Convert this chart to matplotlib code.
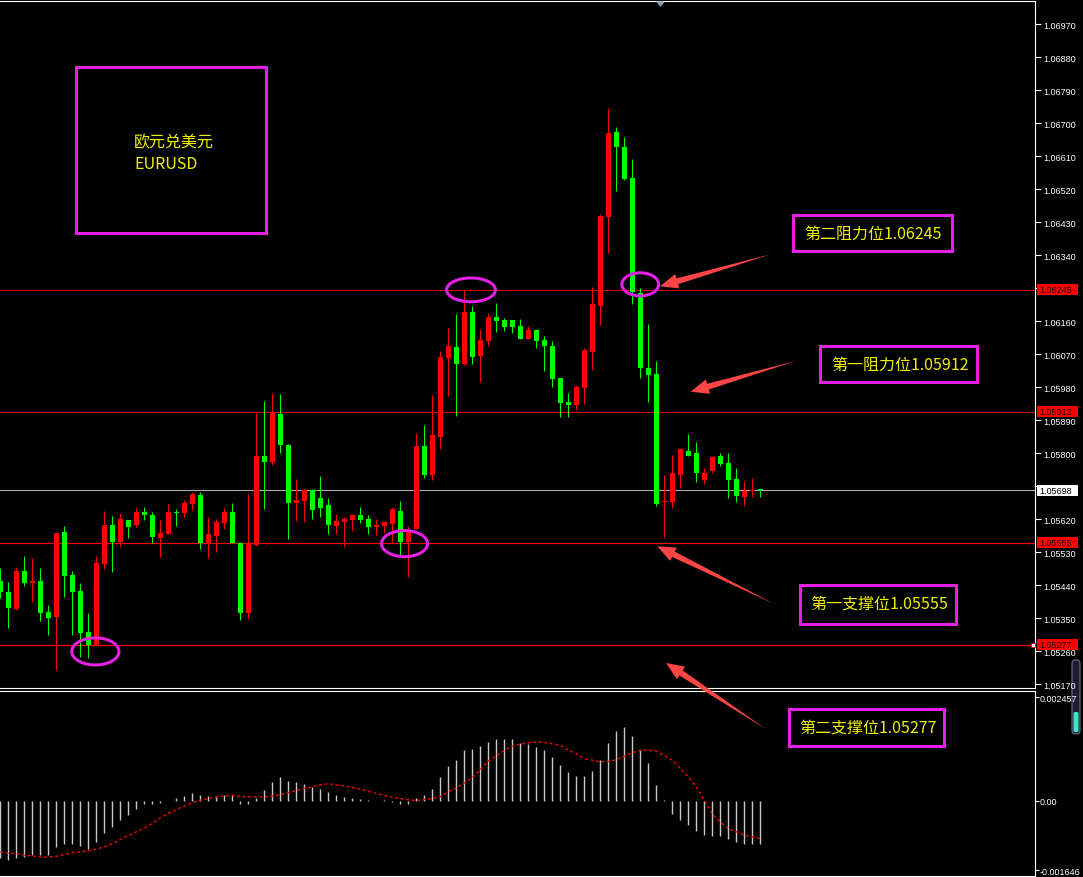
import numpy as np
import matplotlib
matplotlib.use("Agg")
import matplotlib.pyplot as plt
import matplotlib.transforms as mtransforms
from matplotlib.patches import Rectangle, Ellipse, Polygon, FancyBboxPatch

plt.rcParams['font.family'] = ['Noto Sans CJK SC', 'DejaVu Sans']

# DATA (EURUSD candles)
opens = [1.05452, 1.05421, 1.05376, 1.05478, 1.05446, 1.05451, 1.05366, 1.05354, 1.05585, 1.05467,
         1.05424, 1.05312, 1.05276, 1.05497, 1.05604, 1.05557, 1.05617, 1.05604, 1.05639, 1.05631,
         1.05568, 1.05579, 1.05639, 1.05636, 1.05661, 1.05685, 1.05555, 1.05574, 1.05609, 1.05639,
         1.05555, 1.05364, 1.05549, 1.05792, 1.05775, 1.05906, 1.05822, 1.05664, 1.05669, 1.05699,
         1.05677, 1.05658, 1.05601, 1.05612, 1.05617, 1.05631, 1.05620, 1.05598, 1.05601, 1.05606,
         1.05642, 1.05557, 1.05593, 1.05819, 1.05740, 1.05844, 1.06059, 1.06089, 1.06043, 1.06184,
         1.06065, 1.06105, 1.06171, 1.06163, 1.06163, 1.06146, 1.06111, 1.06135, 1.06108, 1.06092,
         1.06005, 1.05939, 1.05931, 1.05977, 1.06075, 1.06201, 1.06444, 1.06675, 1.06634, 1.06550,
         1.06236, 1.06032, 1.06015, 1.05666, 1.05666, 1.05740, 1.05805, 1.05800, 1.05726, 1.05751,
         1.05792, 1.05773, 1.05729, 1.05680, 1.05696, 1.05701]
highs = [1.05486, 1.05448, 1.05489, 1.05519, 1.05514, 1.05486, 1.05385, 1.05582, 1.05601, 1.05478,
         1.05445, 1.05364, 1.05519, 1.05642, 1.05628, 1.05636, 1.05617, 1.05650, 1.05653, 1.05639,
         1.05617, 1.05661, 1.05647, 1.05672, 1.05694, 1.05694, 1.05625, 1.05620, 1.05650, 1.05664,
         1.05557, 1.05688, 1.05912, 1.05942, 1.05964, 1.05961, 1.05825, 1.05729, 1.05702, 1.05702,
         1.05737, 1.05677, 1.05634, 1.05625, 1.05634, 1.05653, 1.05631, 1.05620, 1.05615, 1.05653,
         1.05669, 1.05601, 1.05855, 1.05876, 1.05958, 1.06078, 1.06141, 1.06179, 1.06244, 1.06201,
         1.06138, 1.06182, 1.06209, 1.06168, 1.06163, 1.06165, 1.06146, 1.06138, 1.06119, 1.06105,
         1.06005, 1.05964, 1.05985, 1.06086, 1.06253, 1.06452, 1.06741, 1.06689, 1.06662, 1.06602,
         1.06250, 1.06152, 1.06051, 1.05740, 1.05795, 1.05814, 1.05852, 1.05830, 1.05759, 1.05792,
         1.05800, 1.05800, 1.05759, 1.05724, 1.05732, 1.05701]
lows = [1.05405, 1.05324, 1.05373, 1.05437, 1.05394, 1.05342, 1.05304, 1.05208, 1.05407, 1.05304,
        1.05244, 1.05241, 1.05276, 1.05484, 1.05475, 1.05544, 1.05568, 1.05598, 1.05617, 1.05555,
        1.05516, 1.05579, 1.05601, 1.05625, 1.05645, 1.05538, 1.05514, 1.05530, 1.05593, 1.05555,
        1.05345, 1.05347, 1.05546, 1.05647, 1.05767, 1.05800, 1.05565, 1.05615, 1.05612, 1.05620,
        1.05625, 1.05579, 1.05579, 1.05544, 1.05587, 1.05609, 1.05579, 1.05576, 1.05582, 1.05555,
        1.05522, 1.05462, 1.05593, 1.05732, 1.05727, 1.05811, 1.05955, 1.05901, 1.06040, 1.06043,
        1.05994, 1.06092, 1.06130, 1.06133, 1.06127, 1.06111, 1.06111, 1.06086, 1.06024, 1.05980,
        1.05898, 1.05898, 1.05917, 1.05934, 1.06026, 1.06149, 1.06345, 1.06514, 1.06544, 1.06206,
        1.06005, 1.05939, 1.05655, 1.05568, 1.05650, 1.05705, 1.05792, 1.05721, 1.05715, 1.05745,
        1.05765, 1.05677, 1.05666, 1.05655, 1.05680, 1.05680]
closes = [1.05422, 1.05377, 1.05478, 1.05446, 1.05452, 1.05364, 1.05350, 1.05582, 1.05465, 1.05421,
          1.05309, 1.05276, 1.05500, 1.05604, 1.05557, 1.05620, 1.05598, 1.05639, 1.05631, 1.05571,
          1.05582, 1.05639, 1.05636, 1.05664, 1.05688, 1.05555, 1.05579, 1.05612, 1.05639, 1.05555,
          1.05364, 1.05555, 1.05792, 1.05775, 1.05912, 1.05822, 1.05664, 1.05672, 1.05699, 1.05645,
          1.05650, 1.05604, 1.05615, 1.05620, 1.05631, 1.05617, 1.05598, 1.05604, 1.05612, 1.05647,
          1.05557, 1.05587, 1.05819, 1.05740, 1.05849, 1.06062, 1.06092, 1.06043, 1.06184, 1.06062,
          1.06108, 1.06171, 1.06160, 1.06144, 1.06144, 1.06111, 1.06135, 1.06105, 1.06092, 1.06002,
          1.05936, 1.05931, 1.05980, 1.06081, 1.06206, 1.06446, 1.06673, 1.06634, 1.06547, 1.06239,
          1.06032, 1.06013, 1.05661, 1.05669, 1.05745, 1.05811, 1.05792, 1.05745, 1.05745, 1.05789,
          1.05770, 1.05726, 1.05683, 1.05696, 1.05699, 1.05698]

# MACD histogram + signal
macd_hist = [-0.00137, -0.00142, -0.00137, -0.00133, -0.00128, -0.00130, -0.00130, -0.00111, -0.00104, -0.00102,
             -0.00107, -0.00114, -0.00097, -0.00076, -0.00062, -0.00045, -0.00033, -0.00021, -0.00009, -0.00007,
             -0.00005, -0.00002, 0.00007, 0.00012, 0.00019, 0.00014, 0.00012, 0.00012, 0.00014, 0.00014,
             -0.00009, -0.00009, 0.00007, 0.00024, 0.00045, 0.00055, 0.00047, 0.00043, 0.00040, 0.00033,
             0.00028, 0.00021, 0.00014, 0.00009, 0.00007, 0.00005, 0.00001, 0.00000, 0.00001, -0.00003,
             -0.00007, -0.00009, 0.00007, 0.00014, 0.00028, 0.00057, 0.00083, 0.00097, 0.00119, 0.00123,
             0.00130, 0.00140, 0.00145, 0.00145, 0.00145, 0.00137, 0.00135, 0.00128, 0.00119, 0.00104,
             0.00085, 0.00069, 0.00059, 0.00059, 0.00071, 0.00097, 0.00137, 0.00164, 0.00175, 0.00154,
             0.00121, 0.00090, 0.00038, 0.00001, -0.00031, -0.00045, -0.00057, -0.00071, -0.00081, -0.00083,
             -0.00085, -0.00090, -0.00097, -0.00102, -0.00102, -0.00102]
macd_signal = [-0.00122, -0.00125, -0.00125, -0.00130, -0.00131, -0.00134, -0.00134, -0.00132, -0.00128, -0.00123,
               -0.00122, -0.00119, -0.00115, -0.00110, -0.00102, -0.00092, -0.00083, -0.00074, -0.00065, -0.00054,
               -0.00041, -0.00030, -0.00021, -0.00013, -0.00005, 0.00001, 0.00005, 0.00008, 0.00011, 0.00013,
               0.00010, 0.00009, 0.00009, 0.00009, 0.00011, 0.00014, 0.00019, 0.00024, 0.00029, 0.00033,
               0.00038, 0.00040, 0.00037, 0.00035, 0.00031, 0.00027, 0.00022, 0.00017, 0.00012, 0.00008,
               0.00005, 0.00002, 0.00000, 0.00003, 0.00005, 0.00009, 0.00021, 0.00030, 0.00042, 0.00055,
               0.00074, 0.00094, 0.00106, 0.00119, 0.00129, 0.00134, 0.00137, 0.00139, 0.00138, 0.00135,
               0.00131, 0.00120, 0.00111, 0.00100, 0.00096, 0.00092, 0.00093, 0.00097, 0.00105, 0.00114,
               0.00119, 0.00120, 0.00117, 0.00107, 0.00096, 0.00076, 0.00056, 0.00032, 0.00001, -0.00031,
               -0.00051, -0.00066, -0.00074, -0.00082, -0.00086, -0.00090]

price_ticks = [1.06970, 1.06880, 1.06790, 1.06700, 1.06610, 1.06520, 1.06430, 1.06340, 1.06250, 1.06160,
               1.06070, 1.05980, 1.05890, 1.05800, 1.05710, 1.05620, 1.05530, 1.05440, 1.05350, 1.05260, 1.05170]
hidden_ticks = [1.06250, 1.05710]  # fully covered by the price boxes
macd_ticks = [0.002457, 0.0, -0.001646]
macd_ticklabels = ['0.002457', '0.00', '-0.001646']

# support / resistance levels
resistance = [1.06245, 1.05912]
support = [1.05555, 1.05277]
last_price = 1.05698
level_labels = ['第二阻力位1.06245', '第一阻力位1.05912', '第一支撑位1.05555', '第二支撑位1.05277']
title_lines = ['欧元兑美元', 'EURUSD']

# highlighted touches: (bar, price, width in bars, height in price)
touch_marks = [(11.88, 1.05259, 5.9, 0.00074), (50.53, 1.05553, 5.75, 0.00071),
               (58.84, 1.06245, 6.1, 0.00065), (80.0, 1.06260, 4.6, 0.00063)]

#====================================================#
W, H = 1083, 878
MAGENTA = '#e620e6'
YELLOW = '#f2f200'
ARROW = '#ff4545'
fig = plt.figure(figsize=(W / 100, H / 100), dpi=100, facecolor='black')
inch = fig.dpi_scale_trans

def box_px(x0, y0, x1, y1, **kw):
    # rectangle given in image pixels (y down)
    return Rectangle((x0 / 100, (H - y1) / 100), (x1 - x0) / 100, (y1 - y0) / 100,
                     transform=inch, **kw)

ax = fig.add_axes([0, (H - 689) / H, 1035 / W, (689 - 2) / H], facecolor='black')
axm = fig.add_axes([0, (H - 877) / H, 1035 / W, (877 - 692) / H], facecolor='black')

px_price = 0.00002727  # price per pixel
x = np.arange(len(opens))
o, h, l, c = map(np.array, (opens, highs, lows, closes))

# CANDLES
up = c >= o
cols = np.where(up, '#ff0000', '#00ff00')
ax.vlines(x, l, h, colors=cols, lw=0.75, zorder=3)
ax.bar(x, np.maximum(np.abs(c - o), 0.000025), bottom=np.minimum(o, c),
       width=0.62, color=cols, lw=0, zorder=3)

# LEVELS
for lv in resistance:
    ax.axhline(lv, color='#e00000', lw=0.8, zorder=2)
for lv in support:
    ax.axhline(lv, color='#ff0000', lw=0.9, zorder=2)
ax.axhline(last_price, color='#a8a8a8', lw=0.8, zorder=2)

ax.set_xlim(-0.04, 129.34)
ax.set_ylim(1.070382 - 689 * px_price, 1.070382 - 2 * px_price)
ax.set_xticks([])
ax.yaxis.tick_right()
ax.set_yticks(price_ticks)
ax.set_yticklabels(['' if v in hidden_ticks else f'{v:.5f}' for v in price_ticks])
ax.tick_params(axis='y', colors='white', length=4, width=0.8, pad=2,
               labelsize=6.5, labelfontfamily='Liberation Sans')
ax.spines['left'].set_visible(False)
for s in ('top', 'bottom', 'right'):
    ax.spines[s].set_color('white')
    ax.spines[s].set_linewidth(0.8)

# price boxes on the right scale
trans = mtransforms.blended_transform_factory(ax.transAxes, ax.transData)
for lv, fc, tc in [(resistance[0], '#ff0000', '#1a0000'), (resistance[1], '#ff0000', '#1a0000'),
                   (last_price, '#ffffff', '#000000'),
                   (support[0], '#ff0000', '#1a0000'), (support[1], '#ff0000', '#1a0000')]:
    ax.add_patch(Rectangle((1037 / 1035, lv - 5.5 * px_price), 41 / 1035, 11 * px_price,
                           transform=trans, fc=fc, ec='none', clip_on=False, zorder=5))
    ax.text(1039 / 1035, lv, f'{lv:.5f}', transform=trans, ha='left', va='center',
            fontsize=6.5, family='Liberation Sans', color=tc, zorder=6, clip_on=False)
ax.plot([129.1], [support[1]], marker='s', ms=2.6, mfc='white', mec='red', mew=0.6,
        clip_on=False, zorder=6)

# touch ellipses
for xc, yc, w, hh in touch_marks:
    ax.add_patch(Ellipse((xc, yc), w, hh, fill=False, ec=MAGENTA, lw=2.2, zorder=7))

#====================================================#
# MACD PANEL
axm.vlines(x, 0, macd_hist, colors='#c8c8c8', lw=1.0)
axm.plot(x, macd_signal, color='#ff0000', lw=1.0, ls=(0, (2, 2)))
axm.set_xlim(-0.04, 129.34)
axm.set_ylim(-0.001788, 0.0026)
axm.set_xticks(np.arange(8, 129, 8))
axm.set_xticklabels([])
axm.tick_params(axis='x', colors='white', length=3, width=0.8)
axm.yaxis.tick_right()
axm.set_yticks(macd_ticks)
axm.set_yticklabels(macd_ticklabels)
axm.tick_params(axis='y', colors='white', length=3, width=0.8, pad=0.5,
                labelsize=6.5, labelfontfamily='Liberation Sans')
axm.spines['left'].set_visible(False)
for s in ('top', 'bottom', 'right'):
    axm.spines[s].set_color('white')
    axm.spines[s].set_linewidth(0.8)

#====================================================#
# ANNOTATIONS
fig.add_artist(box_px(75.5, 68.2, 266.2, 234.2, fill=False, ec=MAGENTA, lw=2.2))
fig.text(134 / W, 1 - 143 / H, title_lines[0], color=YELLOW, fontsize=11.5, ha='left', va='center')
fig.text(134 / W, 1 - 164.5 / H, title_lines[1], color=YELLOW, fontsize=11.5, ha='left', va='center')

label_boxes = [(793.2, 216.5, 951.8, 251.8), (819.5, 347.2, 976.5, 382.5),
               (799.5, 585.5, 955.5, 624.5), (788.5, 709.5, 943.5, 746.5)]
label_centers = [(873, 234.5), (900, 365), (879.5, 604), (867.5, 728)]
for txt, bx, (cx, cy) in zip(level_labels, label_boxes, label_centers):
    fig.add_artist(box_px(*bx, fill=False, ec=MAGENTA, lw=2.2))
    fig.text(cx / W, 1 - cy / H, txt, color=YELLOW, fontsize=11.5, ha='center', va='center')

def tapered_arrow(tail, tip, head_len=18, head_w=15, shaft_w=6):
    tail, tip = np.array(tail, float), np.array(tip, float)
    d = (tip - tail) / np.hypot(*(tip - tail))
    n = np.array([-d[1], d[0]])
    base = tip - d * head_len
    pts = [tail, base + n * shaft_w / 2, base + n * head_w / 2, tip,
           base - n * head_w / 2, base - n * shaft_w / 2]
    pts = [(p[0] / 100, (H - p[1]) / 100) for p in pts]
    fig.add_artist(Polygon(pts, closed=True, transform=inch, fc=ARROW, ec='none'))

tapered_arrow((771.7, 255), (660, 287.3))
tapered_arrow((796.7, 361.7), (690.7, 392.7))
tapered_arrow((774.3, 605), (657.3, 547.3))
tapered_arrow((766.7, 730.7), (666, 664))

# chart shift marker and scroll widget
fig.add_artist(Polygon([(656 / 100, (H - 2.5) / 100), (665 / 100, (H - 2.5) / 100),
                        (660.5 / 100, (H - 8) / 100)], closed=True, transform=inch,
                       fc='#8797a8', ec='none', zorder=5))
fig.add_artist(FancyBboxPatch((10.72, (H - 735) / 100), 0.08, 0.74,
                              boxstyle='round,pad=0,rounding_size=0.035', transform=inch,
                              fc='#1c1c38', ec='#707080', lw=0.8, zorder=-1))
fig.add_artist(FancyBboxPatch((10.735, (H - 733) / 100), 0.05, 0.20,
                              boxstyle='round,pad=0,rounding_size=0.015', transform=inch,
                              fc='#3ee6c8', ec='none', zorder=-1))

fig.savefig('out.png', dpi=100, facecolor='black')
